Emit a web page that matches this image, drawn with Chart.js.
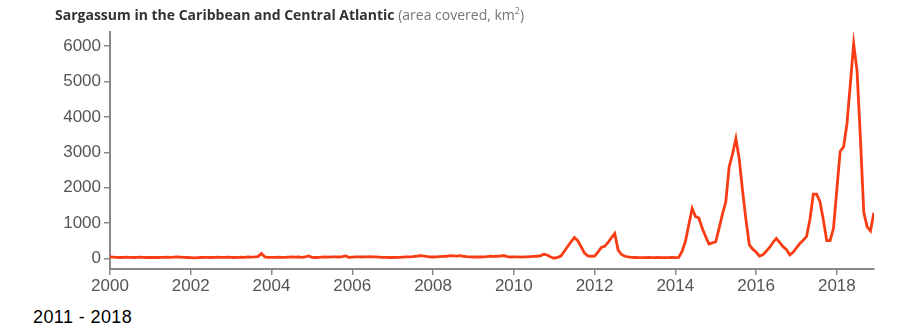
<!DOCTYPE html>
<html>
<head>
<meta charset="utf-8">
<script src="https://cdn.jsdelivr.net/npm/chart.js@4"></script>
<style>
  html, body { margin: 0; padding: 0; background: #fff; }
  #wrap { position: relative; width: 899px; height: 329px; overflow: hidden; }
  #title {
    position: absolute; left: 55px; top: 4px;
    font-family: "Open Sans", sans-serif; font-size: 14px; color: #333;
    white-space: nowrap;
  }
  #title b { font-weight: 700; }
  #title span { color: #777; }
  #range {
    position: absolute; left: 33px; top: 307px;
    font-family: "Liberation Sans", Arial, sans-serif; font-size: 18px; color: #000;
    letter-spacing: 0.4px;
  }
  #chart-box { position: absolute; left: 0; top: 0; width: 899px; height: 300px; }
</style>
</head>
<body>
<div id="wrap">
  <div id="chart-box"><canvas id="sargassum-chart"></canvas></div>
  <div id="title"><b>Sargassum in the Caribbean and Central Atlantic</b> <span>(area covered, km<sup style="font-size:9px">2</sup>)</span></div>
  <div id="range">2011 - 2018</div>
</div>
<script>
// Monthly area covered (km2), Jan to Dec for each year
const years = [2000, 2001, 2002, 2003, 2004, 2005, 2006, 2007, 2008, 2009,
               2010, 2011, 2012, 2013, 2014, 2015, 2016, 2017, 2018];

const area2000 = [40, 35, 30, 25, 30, 35, 30, 25, 30, 35, 30, 25];
const area2001 = [30, 25, 25, 30, 30, 35, 30, 35, 40, 35, 30, 25];
const area2002 = [20, 15, 20, 25, 30, 30, 25, 30, 35, 30, 30, 35];
const area2003 = [30, 25, 30, 35, 30, 40, 35, 40, 50, 140, 40, 30];
const area2004 = [30, 30, 35, 30, 30, 35, 40, 35, 40, 30, 40, 70];
const area2005 = [30, 25, 30, 35, 40, 35, 40, 45, 40, 50, 70, 30];
const area2006 = [35, 40, 45, 40, 45, 50, 45, 40, 35, 30, 30, 25];
const area2007 = [25, 30, 30, 35, 40, 45, 50, 60, 75, 70, 55, 45];
const area2008 = [40, 45, 50, 55, 60, 75, 70, 65, 80, 60, 50, 45];
const area2009 = [40, 45, 40, 45, 50, 60, 55, 60, 65, 80, 50, 40];
const area2010 = [45, 40, 35, 40, 45, 50, 55, 60, 80, 120, 90, 40];
const area2011 = [5, 30, 65, 200, 335, 470, 590, 500, 330, 150, 70, 60];
const area2012 = [65, 180, 310, 340, 450, 580, 705, 235, 110, 60, 40, 30];
const area2013 = [25, 20, 20, 20, 25, 20, 20, 25, 20, 20, 20, 25];
const area2014 = [20, 30, 200, 480, 950, 1410, 1180, 1140, 850, 620, 405, 440];
const area2015 = [470, 850, 1250, 1600, 2590, 2950, 3390, 2800, 1900, 1080, 380, 260];
const area2016 = [180, 65, 100, 200, 310, 450, 565, 450, 330, 255, 100, 170];
const area2017 = [300, 420, 510, 620, 1100, 1815, 1815, 1600, 1080, 500, 500, 850];
const area2018 = [1950, 3030, 3150, 3800, 4920, 6070, 5300, 3400, 1300, 890, 780, 1290];

const yTicks = [0, 1000, 2000, 3000, 4000, 5000, 6000];
const xTicks = [2000, 2002, 2004, 2006, 2008, 2010, 2012, 2014, 2016, 2018];

const monthly = [area2000, area2001, area2002, area2003, area2004, area2005, area2006,
                 area2007, area2008, area2009, area2010, area2011, area2012, area2013,
                 area2014, area2015, area2016, area2017, area2018];

// one point per month, placed at year + month/12
const points = [];
years.forEach((yr, i) => {
    monthly[i].forEach((v, m) => points.push({ x: yr + m / 12, y: v }));
});

const axisGrey = '#8a8a8a';
const tickFont = { family: '"Liberation Sans", Arial, sans-serif', size: 17 };

const chartCanvas = document.getElementById('sargassum-chart');

let sargassumChart = new Chart(chartCanvas, {
    type: 'line',
    data: {
        datasets: [{
            data: points,
            borderColor: '#f83c14',
            borderWidth: 2.8,
            pointRadius: 0,
            tension: 0,
            fill: false
        }]
    },
    options: {
        responsive: true,
        maintainAspectRatio: false,
        animation: false,
        layout: { padding: { top: 32, right: 25, left: 0, bottom: 0 } },
        plugins: {
            legend: { display: false },
            tooltip: { enabled: false }
        },
        scales: {
            x: {
                type: 'linear',
                min: 2000,
                max: 2018.92,
                afterFit: scale => { scale.height = 31; },
                afterBuildTicks: scale => { scale.ticks = xTicks.map(v => ({ value: v })); },
                border: { color: axisGrey, width: 2 },
                grid: { drawOnChartArea: false, color: axisGrey, lineWidth: 1.5, tickLength: 6 },
                ticks: {
                    color: '#555',
                    font: tickFont,
                    padding: 1,
                    maxRotation: 0,
                    callback: v => String(v)
                }
            },
            y: {
                min: -300,
                max: 6400,
                afterFit: scale => { scale.width = 110; },
                afterBuildTicks: scale => { scale.ticks = yTicks.map(v => ({ value: v })); },
                border: { color: axisGrey, width: 2 },
                grid: { drawOnChartArea: false, color: axisGrey, lineWidth: 1.5, tickLength: 6 },
                ticks: {
                    color: '#555',
                    font: tickFont,
                    padding: 3,
                    callback: v => String(v)
                }
            }
        }
    }
});
</script>
</body>
</html>
